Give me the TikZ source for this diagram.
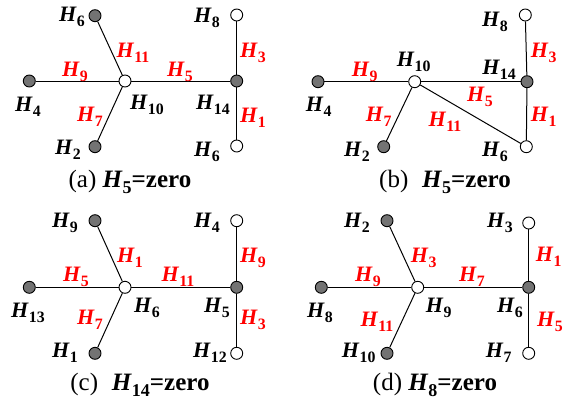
\documentclass[tikz,border=0pt]{standalone}
\usepackage{fontspec}
\setmainfont{Liberation Serif}
\usetikzlibrary{positioning}
\newcommand{\Hn}[1]{\textbf{\textit{H}}\raisebox{-0.22em}{\scalebox{0.72}{\textbf{#1}}}}

\begin{document}
\begin{tikzpicture}[x=1pt, y=-1pt,
    gnode/.style={circle, draw, line width=0.9pt, fill=black!55, inner sep=0pt, minimum size=12pt},
    wnode/.style={gnode, fill=white},
    hlab/.style={font=\fontsize{22}{24}\selectfont, inner sep=0pt},
    elab/.style={hlab, text=red},
    captext/.style={font=\fontsize{25}{27}\selectfont, inner sep=0pt},
    link/.style={line width=1pt}]
    \useasboundingbox (0,0) rectangle (564,407);

    % (a)
    \node[gnode] (a6) at (95,15.7) {};
    \node[wnode] (a8) at (236.7,15) {};
    \node[gnode] (a4) at (29.3,81) {};
    \node[wnode] (a10) at (125,81) {};
    \node[gnode] (a14) at (236.7,81) {};
    \node[gnode] (a2) at (95,146.7) {};
    \node[wnode] (a6b) at (236.7,146) {};
    \draw[link] (a4) -- (a10) -- (a14);
    \draw[link] (a6) -- (a10) -- (a2);
    \draw[link] (a8) -- (a14) -- (a6b);
    \node[hlab] (ta6) at (72,17) {\Hn{6}};
    \node[hlab] (ta8) at (207,18) {\Hn{8}};
    \node[hlab] (ta4) at (28,107) {\Hn{4}};
    \node[hlab] (ta10) at (147,105) {\Hn{10}};
    \node[hlab] (ta14) at (213,105) {\Hn{14}};
    \node[hlab] (ta2) at (68,150) {\Hn{2}};
    \node[hlab] (ta6b) at (207,152) {\Hn{6}};
    \node[elab] (ea11) at (133,53) {\Hn{11}};
    \node[elab] (ea3) at (253,53) {\Hn{3}};
    \node[elab] (ea9) at (75,72) {\Hn{9}};
    \node[elab] (ea5) at (180,72) {\Hn{5}};
    \node[elab] (ea7) at (90,117) {\Hn{7}};
    \node[elab] (ea1) at (253,118) {\Hn{1}};
    \node[captext] (capa) at (130,182) {(a) \Hn{5}\textbf{=zero}};

    % (b)
    \node[wnode] (b8) at (525.3,15) {};
    \node[gnode] (b4) at (318,81.7) {};
    \node[wnode] (b10) at (414.7,81.7) {};
    \node[gnode] (b14) at (527,81.7) {};
    \node[gnode] (b2) at (383.7,146.7) {};
    \node[wnode] (b6) at (526.3,146.7) {};
    \draw[link] (b4) -- (b10) -- (b14);
    \draw[link] (b10) -- (b2);
    \draw[link] (b10) -- (b6);
    \draw[link] (b8) -- (b14) -- (b6);
    \node[hlab] (tb8) at (495,22) {\Hn{8}};
    \node[hlab] (tb10) at (413.7,62) {\Hn{10}};
    \node[hlab] (tb14) at (499,70) {\Hn{14}};
    \node[hlab] (tb4) at (318.7,107) {\Hn{4}};
    \node[hlab] (tb2) at (357,152) {\Hn{2}};
    \node[hlab] (tb6) at (495,152) {\Hn{6}};
    \node[elab] (eb9) at (364.7,72) {\Hn{9}};
    \node[elab] (eb3) at (543.7,53) {\Hn{3}};
    \node[elab] (eb5) at (480,97) {\Hn{5}};
    \node[elab] (eb7) at (378.7,117) {\Hn{7}};
    \node[elab] (eb11) at (445,122) {\Hn{11}};
    \node[elab] (eb1) at (543.7,117) {\Hn{1}};
    \node[captext] (capb) at (445,182) {(b)\hspace{0.55em}\Hn{5}\textbf{=zero}};

    % (c)
    \node[gnode] (c9) at (95,220.7) {};
    \node[wnode] (c4) at (236.7,220.7) {};
    \node[gnode] (c13) at (29.3,287.3) {};
    \node[wnode] (c6) at (125,287.3) {};
    \node[gnode] (c5) at (236.7,287.3) {};
    \node[gnode] (c1) at (95,353.3) {};
    \node[wnode] (c12) at (236.7,353.3) {};
    \draw[link] (c13) -- (c6) -- (c5);
    \draw[link] (c9) -- (c6) -- (c1);
    \draw[link] (c4) -- (c5) -- (c12);
    \node[hlab] (tc9) at (65,223) {\Hn{9}};
    \node[hlab] (tc4) at (207,223) {\Hn{4}};
    \node[hlab] (tc13) at (28,313) {\Hn{13}};
    \node[hlab] (tc6) at (147,308) {\Hn{6}};
    \node[hlab] (tc5) at (217,308) {\Hn{5}};
    \node[hlab] (tc1) at (65,353) {\Hn{1}};
    \node[hlab] (tc12) at (210,353) {\Hn{12}};
    \node[elab] (ec1) at (130,258) {\Hn{1}};
    \node[elab] (ec9) at (253,258) {\Hn{9}};
    \node[elab] (ec5) at (76,277) {\Hn{5}};
    \node[elab] (ec11) at (178,277) {\Hn{11}};
    \node[elab] (ec7) at (90,320) {\Hn{7}};
    \node[elab] (ec3) at (253,320) {\Hn{3}};
    \node[captext] (capc) at (140,385) {(c)\hspace{0.55em}\Hn{14}\textbf{=zero}};

    % (d)
    \node[gnode] (d2) at (387,220.7) {};
    \node[wnode] (d3) at (528.7,223) {};
    \node[gnode] (d8) at (321.3,287.3) {};
    \node[wnode] (d9) at (417.7,287.3) {};
    \node[gnode] (d6) at (528.7,287.3) {};
    \node[gnode] (d10) at (387,353.3) {};
    \node[wnode] (d7) at (528.7,353.3) {};
    \draw[link] (d8) -- (d9) -- (d6);
    \draw[link] (d2) -- (d9) -- (d10);
    \draw[link] (d3) -- (d6) -- (d7);
    \node[hlab] (td2) at (357,223) {\Hn{2}};
    \node[hlab] (td3) at (500,223) {\Hn{3}};
    \node[hlab] (td8) at (320,313) {\Hn{8}};
    \node[hlab] (td9) at (438.7,308) {\Hn{9}};
    \node[hlab] (td6) at (510,308) {\Hn{6}};
    \node[hlab] (td10) at (358.7,353) {\Hn{10}};
    \node[hlab] (td7) at (498.7,353) {\Hn{7}};
    \node[elab] (ed3) at (423.7,258) {\Hn{3}};
    \node[elab] (ed1) at (548.7,257) {\Hn{1}};
    \node[elab] (ed9) at (368,277) {\Hn{9}};
    \node[elab] (ed7) at (472,277) {\Hn{7}};
    \node[elab] (ed11) at (377,322) {\Hn{11}};
    \node[elab] (ed5) at (550,322) {\Hn{5}};
    \node[captext] (capd) at (435,385) {(d) \Hn{8}\textbf{=zero}};
\end{tikzpicture}
\end{document}
